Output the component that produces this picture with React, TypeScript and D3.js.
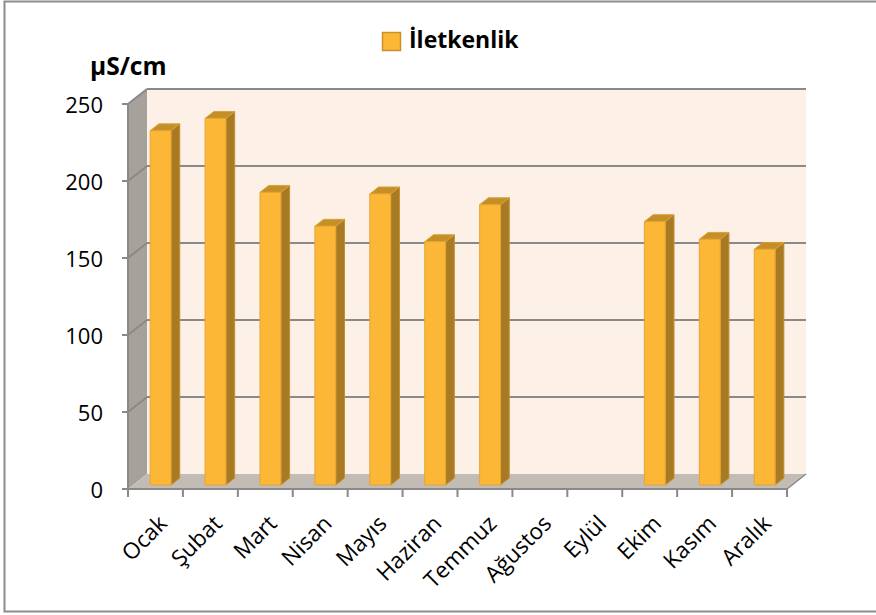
import React from "react";
import * as d3 from "d3";

const months = ["Ocak", "Şubat", "Mart", "Nisan", "Mayıs", "Haziran", "Temmuz", "Ağustos", "Eylül", "Ekim", "Kasım", "Aralık"];
const iletkenlik: (number | null)[] = [230, 238, 190, 168, 189, 158, 182, null, null, 171, 159.5, 153];
const yTicks = [0, 50, 100, 150, 200, 250];
const seriesName = "İletkenlik";
const unitLabel = "µS/cm";

const W = 876;
const H = 615;
const DX = 19;
const DY = -15;
const D1 = 0.27;
const D2 = 0.73;
const FONT = "'Open Sans', 'Noto Sans', sans-serif";

export default function App() {
  const x = d3.scaleBand<string>().domain(months).range([128, 787]).paddingInner(0).paddingOuter(0);
  const y = d3.scaleLinear().domain([0, 250]).range([489, 104]);
  const bw = x.bandwidth();
  const faceW = bw * 0.38;
  const ddx = DX * (D2 - D1);
  const ddy = DY * (D2 - D1);
  const x0 = x.range()[0];
  const x1 = x.range()[1];
  const yTop = y(250);
  const yBot = y(0);

  const pts = (a: [number, number][]) => a.map((p) => p.join(",")).join(" ");

  return (
    <svg width={W} height={H} style={{ position: "absolute", left: 0, top: 0, background: "#fff" }}>
      {/* chart frame */}
      <path d={`M${W + 5},1.5 H4.5 V611.5 H${W + 5}`} fill="none" stroke="#8c8c8c" strokeWidth={2} />

      {/* back wall */}
      <rect x={x0 + DX} y={yTop + DY} width={x1 - x0} height={yBot - yTop} fill="#FDF0E7" />
      {/* left side wall */}
      <polygon
        points={pts([[x0, yTop], [x0 + DX, yTop + DY], [x0 + DX, yBot + DY], [x0, yBot]])}
        fill="#A7A19B"
      />
      {/* floor */}
      <polygon
        points={pts([[x0, yBot], [x1, yBot], [x1 + DX, yBot + DY], [x0 + DX, yBot + DY]])}
        fill="#C3BCB5"
      />

      {/* gridlines */}
      {yTicks.filter((t) => t > 0).map((t) => (
        <g key={t}>
          <line x1={x0 + DX} x2={x1 + DX} y1={y(t) + DY} y2={y(t) + DY} stroke="#898989" strokeWidth={2} />
          <line x1={x0} x2={x0 + DX} y1={y(t)} y2={y(t) + DY} stroke="#898989" strokeWidth={2} />
        </g>
      ))}

      {/* bars */}
      {months.map((m, i) => {
        const v = iletkenlik[i];
        if (v == null) return null;
        const fx = (x(m) as number) + (bw - faceW) / 2 + DX * D1;
        const top = y(v) + DY * D1;
        const bot = y(0) + DY * D1;
        return (
          <g key={m} strokeLinejoin="round">
            <polygon
              points={pts([[fx + faceW, top], [fx + faceW + ddx, top + ddy], [fx + faceW + ddx, bot + ddy], [fx + faceW, bot]])}
              fill="#A87A23"
              stroke="#C2902F"
              strokeWidth={1}
            />
            <polygon
              points={pts([[fx, top], [fx + ddx, top + ddy], [fx + faceW + ddx, top + ddy], [fx + faceW, top]])}
              fill="#C48F27"
              stroke="#D9A23A"
              strokeWidth={1}
            />
            <rect x={fx} y={top} width={faceW} height={bot - top} fill="#FBB735" stroke="#E4A533" strokeWidth={1} />
          </g>
        );
      })}

      {/* axes */}
      <line x1={x0} x2={x0} y1={yTop} y2={yBot} stroke="#898989" strokeWidth={2} />
      <line x1={x0} x2={x1} y1={yBot} y2={yBot} stroke="#898989" strokeWidth={2} />
      <line x1={x1} x2={x1 + DX} y1={yBot} y2={yBot + DY} stroke="#898989" strokeWidth={1.5} />
      {yTicks.map((t) => (
        <g key={t}>
          <line x1={x0 - 6} x2={x0} y1={y(t)} y2={y(t)} stroke="#898989" strokeWidth={2} />
          <text x={103} y={y(t)} textAnchor="end" dominantBaseline="central" fontFamily={FONT} fontSize={22} fill="#000">
            {t}
          </text>
        </g>
      ))}
      {d3.range(months.length + 1).map((i) => {
        const xx = x0 + i * bw;
        return <line key={i} x1={xx} x2={xx} y1={yBot} y2={yBot + 8} stroke="#898989" strokeWidth={2} />;
      })}
      {months.map((m) => {
        const cx = (x(m) as number) + bw / 2 + 13;
        const cy = 525;
        return (
          <text
            key={m}
            x={cx}
            y={cy}
            textAnchor="end"
            transform={`rotate(-45 ${cx} ${cy})`}
            fontFamily={FONT}
            fontSize={22.5}
            fill="#000"
          >
            {m}
          </text>
        );
      })}

      {/* unit label */}
      <text x={90} y={75} fontFamily={FONT} fontWeight="bold" fontSize={24.5} fill="#000">
        {unitLabel}
      </text>

      {/* legend */}
      <rect x={382.5} y={32.5} width={18} height={18} fill="#FBB735" stroke="#C9912A" strokeWidth={1.5} />
      <text x={409} y={48} fontFamily={FONT} fontWeight="bold" fontSize={23} fill="#000">
        {seriesName}
      </text>
    </svg>
  );
}
